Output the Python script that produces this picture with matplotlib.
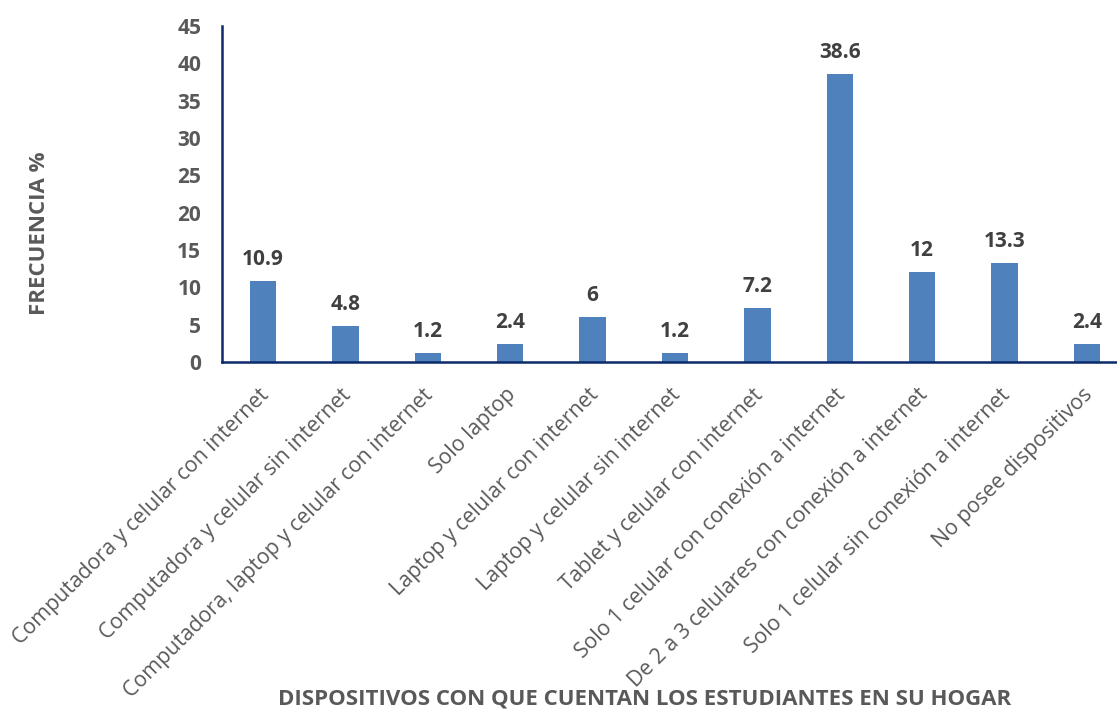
import numpy as np
import matplotlib
matplotlib.use("Agg")
import matplotlib.pyplot as plt
import matplotlib.transforms as mtransforms

plt.rcParams['font.family'] = ['Open Sans', 'DejaVu Sans']

categorias = [
    "Computadora y celular con internet",
    "Computadora y celular sin internet",
    "Computadora, laptop y celular con internet",
    "Solo laptop",
    "Laptop y celular con internet",
    "Laptop y celular sin internet",
    "Tablet y celular con internet",
    "Solo 1 celular con conexión a internet",
    "De 2 a 3 celulares con conexión a internet",
    "Solo 1 celular sin conexión a internet",
    "No posee dispositivos",
]
frecuencia = [10.9, 4.8, 1.2, 2.4, 6, 1.2, 7.2, 38.6, 12, 13.3, 2.4]
etiquetas = ["10.9", "4.8", "1.2", "2.4", "6", "1.2", "7.2", "38.6", "12", "13.3", "2.4"]
yticks = [0, 5, 10, 15, 20, 25, 30, 35, 40, 45]

GRIS = "#595959"
AZUL = "#4F81BD"
NAVY = "#0B2A6B"

fig = plt.figure(figsize=(11.17, 7.11), dpi=100)
ax = fig.add_axes([222/1117, 1 - 362/711, 906/1117, (362-26)/711])

x = np.arange(len(categorias))
ax.bar(x, frecuencia, width=0.32, color=AZUL, zorder=2)

# etiquetas de datos
for xi, v, t in zip(x, frecuencia, etiquetas):
    ax.annotate(t, (xi, v), xytext=(0, 8), textcoords="offset points",
                ha="center", va="bottom", fontsize=15, fontweight="bold", color="#404040")

ax.set_xlim(-0.5, len(categorias) - 0.5)
ax.set_ylim(0, 45)
ax.set_yticks(yticks)
ax.set_yticklabels([str(t) for t in yticks], fontsize=15, fontweight="bold", color=GRIS)
ax.tick_params(axis="y", length=0, pad=15)

ax.set_xticks(x)
ax.set_xticklabels(categorias, rotation=45, ha="right", rotation_mode="anchor",
                   fontsize=15.3, color=GRIS)
ax.tick_params(axis="x", length=0, pad=14)
# correr un poco las etiquetas hacia la izquierda/abajo
off = mtransforms.ScaledTranslation(-5/100, -3/100, fig.dpi_scale_trans)
for lab in ax.get_xticklabels():
    lab.set_transform(lab.get_transform() + off)

for s in ["top", "right"]:
    ax.spines[s].set_visible(False)
for s in ["left", "bottom"]:
    ax.spines[s].set_color(NAVY)
    ax.spines[s].set_linewidth(1.8)

fig.text(40/1117, 1 - 233/711, "FRECUENCIA %", rotation=90, ha="center", va="center",
         fontsize=16, fontweight="bold", color=GRIS)
fig.text(645/1117, 1 - 699/711, "DISPOSITIVOS CON QUE CUENTAN LOS ESTUDIANTES EN SU HOGAR",
         ha="center", va="center", fontsize=16, fontweight="bold", color=GRIS)

fig.savefig("out.png", dpi=100)
